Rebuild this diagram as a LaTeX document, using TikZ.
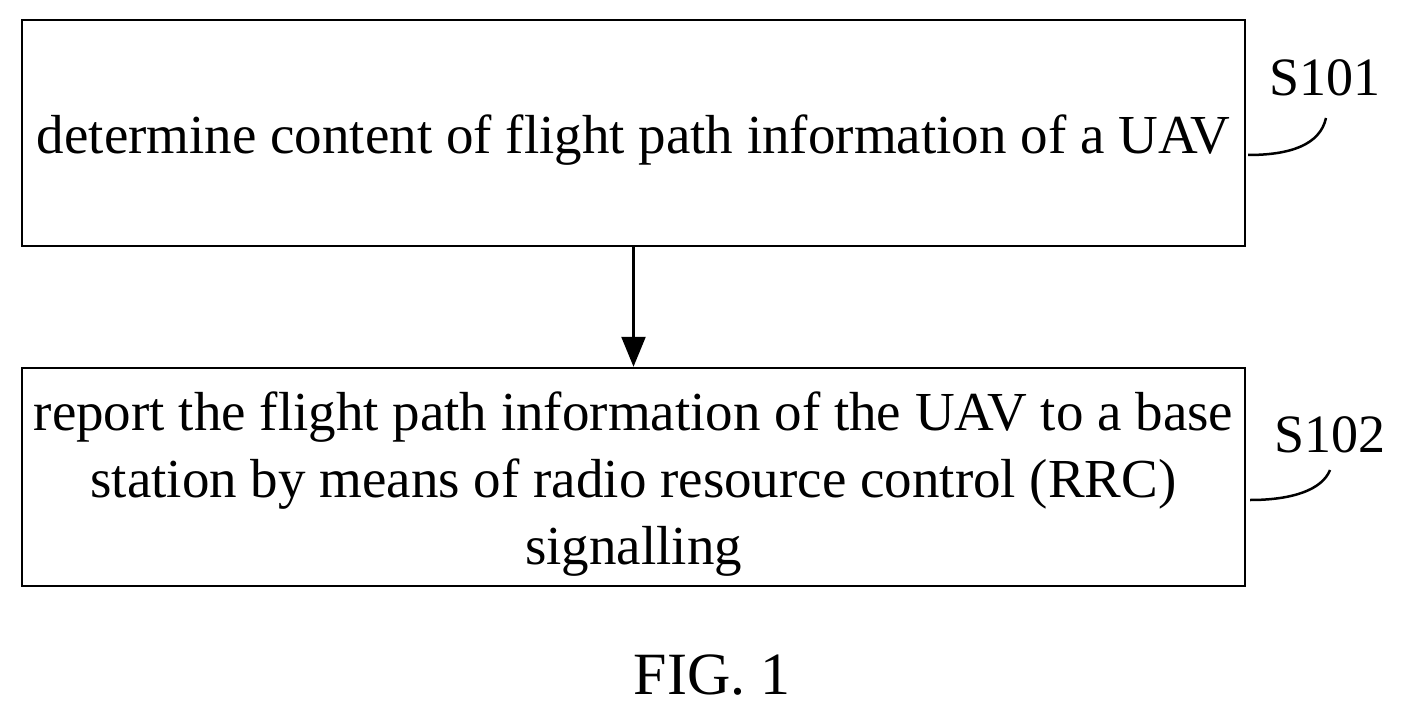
\documentclass[tikz,border=0pt]{standalone}
\usepackage{fontspec}
\setmainfont{Liberation Serif}
\usetikzlibrary{arrows.meta}
\begin{document}
\begin{tikzpicture}[x=1pt,y=-1pt,
  box/.style={draw,line width=2.5pt,minimum width=1223pt,minimum height=#1,align=center,inner sep=0pt},
  txt/.style={align=center,font=\fontsize{55}{67}\selectfont,inner sep=0pt},
  lab/.style={font=\fontsize{54}{58}\selectfont,inner sep=0pt},
  link/.style={line width=2.5pt}]
\useasboundingbox (0,0) rectangle (1404,714);
\node[box=226pt] (b1) at (633.5,133) {};
\node[txt] (t1) at (633.5,140) {determine content of flight path information of a UAV};
\node[box=218pt] (b2) at (633.5,477) {};
\node[txt] (t2) at (633.5,484) {report the flight path information of the UAV to a base\\station by means of radio resource control (RRC)\\signalling};
\draw[link,-{Triangle[length=30pt,width=24pt]}] (b1.south) -- (b2.north);
\node[lab] (s1) at (1325,78) {S101};
\node[lab] (s2) at (1330,435) {S102};
\coordinate (c1) at (1248,155);
\coordinate (c2) at (1250,500);
\draw[link] (c1) .. controls (1290,155) and (1320,145) .. (1326,118);
\draw[link] (c2) .. controls (1292,500) and (1322,490) .. (1330,470);
\node[lab,font=\fontsize{60}{64}\selectfont] (fig) at (712,675) {FIG. 1};
\end{tikzpicture}
\end{document}
